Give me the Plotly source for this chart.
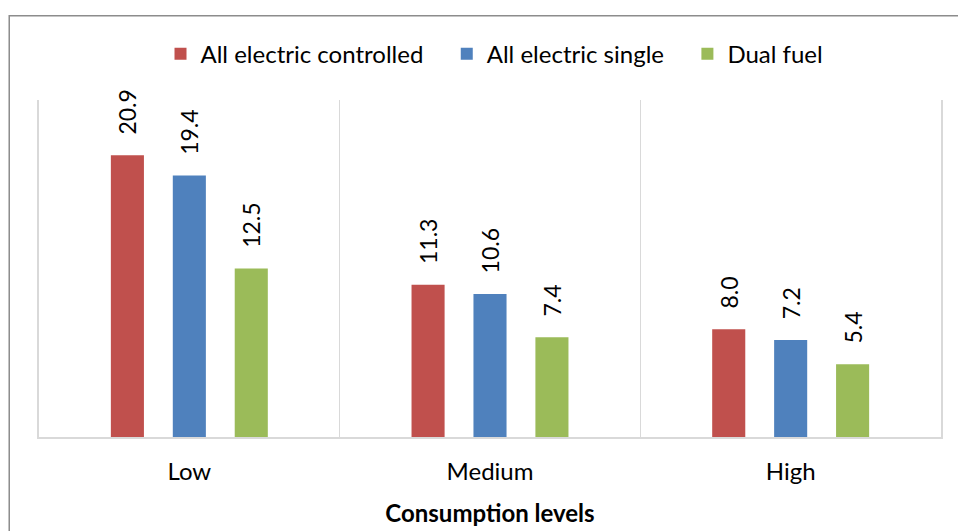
import plotly.graph_objects as go

# Consumption levels on the category axis
categories = ["Low", "Medium", "High"]

# Values for each tariff type
series_names = ["All electric controlled", "All electric single", "Dual fuel"]
all_electric_controlled = [20.9, 11.3, 8.0]
all_electric_single = [19.4, 10.6, 7.2]
dual_fuel = [12.5, 7.4, 5.4]

colors = ["#C0504D", "#4F81BD", "#9BBB59"]
series_values = [all_electric_controlled, all_electric_single, dual_fuel]

FONT = "Lato"
NBSP = "\u00a0"

fig = go.Figure()
for i, (name, vals, color) in enumerate(zip(series_names, series_values, colors)):
    # trailing non-breaking spaces widen the gap between legend entries
    legend_name = name + (NBSP * 3 if i < len(series_names) - 1 else "")
    fig.add_trace(go.Bar(
        x=categories,
        y=vals,
        name=legend_name,
        marker=dict(color=color, line=dict(width=0)),
        texttemplate=NBSP * 3 + "%{y:.1f}",
        textposition="outside",
        textangle=-90,
        constraintext="none",
        cliponaxis=False,
        textfont=dict(family=FONT, size=23, color="#000000"),
    ))

fig.update_layout(
    width=958,
    height=531,
    margin=dict(l=39, r=17, t=100, b=94),
    paper_bgcolor="white",
    plot_bgcolor="white",
    barmode="group",
    bargap=0.382,
    bargroupgap=0.466,
    font=dict(family=FONT, size=24, color="#000000"),
    showlegend=True,
    legend=dict(
        orientation="h",
        x=0.505,
        xanchor="center",
        y=1.136,
        yanchor="middle",
        font=dict(family=FONT, size=24, color="#000000"),
        bgcolor="rgba(0,0,0,0)",
    ),
    xaxis=dict(
        automargin=False,
        tickson="boundaries",
        showgrid=True,
        gridcolor="#D9D9D9",
        gridwidth=1,
        showline=True,
        linecolor="#D9D9D9",
        linewidth=2,
        ticks="",
        ticklabelstandoff=12,
        tickfont=dict(family=FONT, size=24, color="#000000"),
        title=dict(
            text="<b>Consumption levels</b>",
            font=dict(family=FONT, size=24, color="#000000"),
            standoff=21,
        ),
    ),
    yaxis=dict(
        automargin=False,
        range=[0, 25],
        showgrid=False,
        zeroline=False,
        showticklabels=False,
        ticks="",
        showline=True,
        mirror=True,
        linecolor="#D9D9D9",
        linewidth=2,
    ),
    shapes=[
        # outer chart frame (left and top edges)
        dict(
            type="path",
            xref="paper",
            yref="paper",
            path="M -0.033,-0.35 L -0.033,1.25 L 1.05,1.25",
            line=dict(color="#8C8C8C", width=1.5),
            layer="above",
        )
    ],
)

fig.write_html("out.html")
